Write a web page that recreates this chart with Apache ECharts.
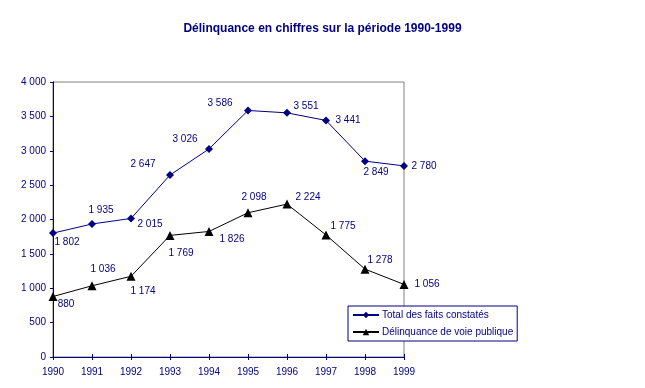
<!DOCTYPE html>
<html>
<head>
<meta charset="utf-8">
<script src="https://cdn.jsdelivr.net/npm/echarts@6/dist/echarts.min.js"></script>
<style>html,body{margin:0;padding:0;background:#fff}#c{width:645px;height:388px}</style>
</head>
<body>
<div id="c"></div>
<script>
const years = ['1990','1991','1992','1993','1994','1995','1996','1997','1998','1999'];
const totalFaits = [1802, 1935, 2015, 2647, 3026, 3586, 3551, 3441, 2849, 2780];
const voiePublique = [880, 1036, 1174, 1769, 1826, 2098, 2224, 1775, 1278, 1056];
const yTicks = { min: 0, max: 4000, interval: 500 };

// label placement (style only)
const totalLabelOffsets = [[14,9],[9,-14],[19,6],[-27,-11],[-24,-10],[-28,-7],[19,-7],[22,0],[11,11],[20,0]];
const voieLabelOffsets = [[13,8],[11,-17],[12,15],[11,18],[23,8],[6,-16],[21,-7],[17,-9],[15,-9],[23,0]];

const NAVY = '#000080';
const FONT = 'Liberation Sans, Arial, sans-serif';
function fmt(v){ return String(v).replace(/\B(?=(\d{3})+(?!\d))/g, ' '); }

function build(vals, offs){
  return vals.map((v,i)=>({value:v, label:{offset:offs[i]}}));
}

const chart = echarts.init(document.getElementById('c'), null, {renderer:'canvas'});
chart.setOption({
  animation:false,
  backgroundColor:'#fff',
  title:{
    text:'Délinquance en chiffres sur la période 1990-1999',
    left:'center', top:18,
    textStyle:{color:NAVY, fontSize:12, fontWeight:'bold', fontFamily:FONT}
  },
  grid:{left:53, right:241, top:82, bottom:31, show:true, borderColor:'#808080', borderWidth:1, backgroundColor:'transparent'},
  legend:{
    orient:'vertical', left:348, top:306,
    backgroundColor:'#fff', borderColor:NAVY, borderWidth:1,
    padding:[4,4,4,4], itemGap:7, itemWidth:26, itemHeight:8,
    textStyle:{color:NAVY, fontSize:10, fontFamily:FONT, padding:[0,0,0,-2]},
    data:['Total des faits constatés','Délinquance de voie publique']
  },
  xAxis:[{
    type:'category', data:years, boundaryGap:false,
    axisLine:{lineStyle:{color:NAVY, width:1}},
    axisTick:{show:true, length:3, lineStyle:{color:NAVY}},
    axisLabel:{color:NAVY, fontSize:10, fontFamily:FONT, margin:10},
    splitLine:{show:false}
  },{
    type:'category', data:years, boundaryGap:false, position:'bottom',
    axisLine:{show:false},
    axisTick:{show:true, inside:true, length:3, lineStyle:{color:NAVY}},
    axisLabel:{show:false}, splitLine:{show:false}
  }],
  yAxis:{
    type:'value', min:yTicks.min, max:yTicks.max, interval:yTicks.interval,
    axisLine:{show:true, lineStyle:{color:NAVY, width:1}},
    axisTick:{show:true, length:3, lineStyle:{color:NAVY}},
    axisLabel:{color:NAVY, fontSize:10, fontFamily:FONT, margin:7, formatter:fmt},
    splitLine:{show:false}
  },
  series:[{
    name:'Total des faits constatés', type:'line',
    data:build(totalFaits, totalLabelOffsets),
    symbol:'diamond', symbolSize:8,
    itemStyle:{color:NAVY}, lineStyle:{color:NAVY, width:1},
    label:{show:true, position:'inside', color:NAVY, fontSize:10, fontFamily:FONT, formatter:p=>fmt(p.value)},
    z:3
  },{
    name:'Délinquance de voie publique', type:'line',
    data:build(voiePublique, voieLabelOffsets),
    symbol:'triangle', symbolSize:9,
    itemStyle:{color:'#000'}, lineStyle:{color:'#000', width:1},
    label:{show:true, position:'inside', color:NAVY, fontSize:10, fontFamily:FONT, formatter:p=>fmt(p.value)},
    z:3
  }]
});
</script>
</body>
</html>
